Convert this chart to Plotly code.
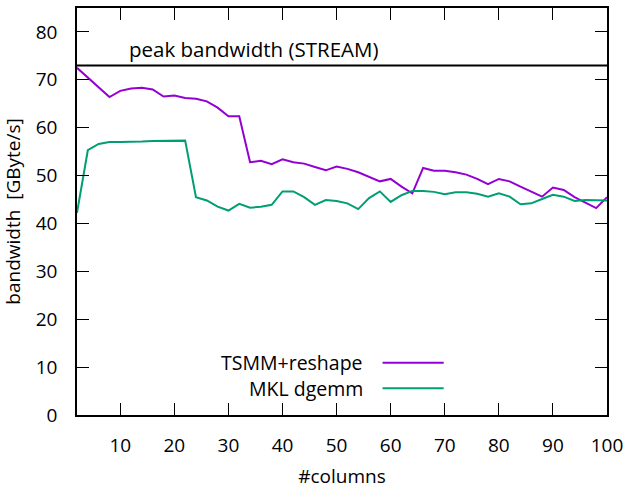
import plotly.graph_objects as go

columns = list(range(2, 101, 2))
tsmm_reshape = [72.5, 70.4, 68.4, 66.4, 67.7, 68.2, 68.35, 68.0, 66.5, 66.7,
                66.2, 66.05, 65.5, 64.2, 62.4, 62.4, 52.8, 53.1, 52.4, 53.4,
                52.8, 52.5, 51.8, 51.1, 51.9, 51.4, 50.7, 49.8, 48.8, 49.3,
                47.7, 46.3, 51.6, 51.0, 51.0, 50.7, 50.2, 49.3, 48.2, 49.3,
                48.8, 47.7, 46.7, 45.6, 47.5, 47.0, 45.5, 44.4, 43.2, 45.5]
mkl_dgemm = [42.2, 55.3, 56.6, 57.0, 57.0, 57.0, 57.1, 57.2, 57.2, 57.2,
             57.3, 45.5, 44.8, 43.5, 42.7, 44.1, 43.3, 43.5, 43.9, 46.7,
             46.7, 45.5, 43.9, 44.9, 44.7, 44.2, 43.0, 45.3, 46.7, 44.5,
             45.9, 46.8, 46.8, 46.6, 46.1, 46.5, 46.5, 46.2, 45.6, 46.3,
             45.6, 44.0, 44.2, 45.1, 46.0, 45.6, 44.7, 44.9, 44.9, 44.8]
peak_bandwidth = 73
series_names = ["TSMM+reshape", "MKL dgemm"]
series_colors = ["#9400D3", "#009E73"]
x_ticks = list(range(10, 101, 10))
y_ticks = list(range(0, 81, 10))

FONT = "Open Sans"
FS = 19
fig = go.Figure()
for name, vals, col in zip(series_names, [tsmm_reshape, mkl_dgemm], series_colors):
    fig.add_trace(go.Scatter(x=columns, y=vals, mode="lines", name=name,
                             line=dict(color=col, width=2), showlegend=False))

# peak line
fig.add_trace(go.Scatter(x=[2, 100], y=[peak_bandwidth, peak_bandwidth], mode="lines",
                         line=dict(color="black", width=2), showlegend=False))
fig.add_annotation(x=11.2, y=76.4, xref="x", yref="y", text="peak bandwidth (STREAM)",
                   showarrow=False, xanchor="left", yanchor="middle",
                   font=dict(family=FONT, size=20.5, color="black"))

# gnuplot-style legend: text then sample line
leg_y = [10.9, 5.6]
for name, col, ly in zip(series_names, series_colors, leg_y):
    fig.add_annotation(x=55.3, y=ly, xref="x", yref="y", text=name, showarrow=False,
                       xanchor="right", yanchor="middle",
                       font=dict(family=FONT, size=19.5, color="black"))
    fig.add_trace(go.Scatter(x=[58.5, 69.8], y=[ly, ly], mode="lines",
                             line=dict(color=col, width=2), showlegend=False,
                             hoverinfo="skip"))

axis_common = dict(showline=True, linecolor="black", linewidth=1.5, mirror="ticks",
                   ticks="inside", ticklen=12, tickwidth=1, tickcolor="black",
                   showgrid=False, zeroline=False, automargin=False,
                   tickfont=dict(family=FONT, size=FS, color="black"))
fig.update_xaxes(range=[2, 100], tickvals=x_ticks, ticklabelstandoff=12,
                 title=dict(text="#columns", font=dict(family=FONT, size=FS, color="black"),
                            standoff=24),
                 **axis_common)
fig.update_yaxes(range=[0, 85], tickvals=y_ticks, ticklabelstandoff=14,
                 title=dict(text="bandwidth  [GByte/s]",
                            font=dict(family=FONT, size=FS, color="black"), standoff=11),
                 **axis_common)
fig.update_layout(width=625, height=489, margin=dict(l=77, r=18, t=8, b=74),
                  plot_bgcolor="white", paper_bgcolor="white", showlegend=False,
                  font=dict(family=FONT, size=FS, color="black"))
fig.write_html("out.html")
